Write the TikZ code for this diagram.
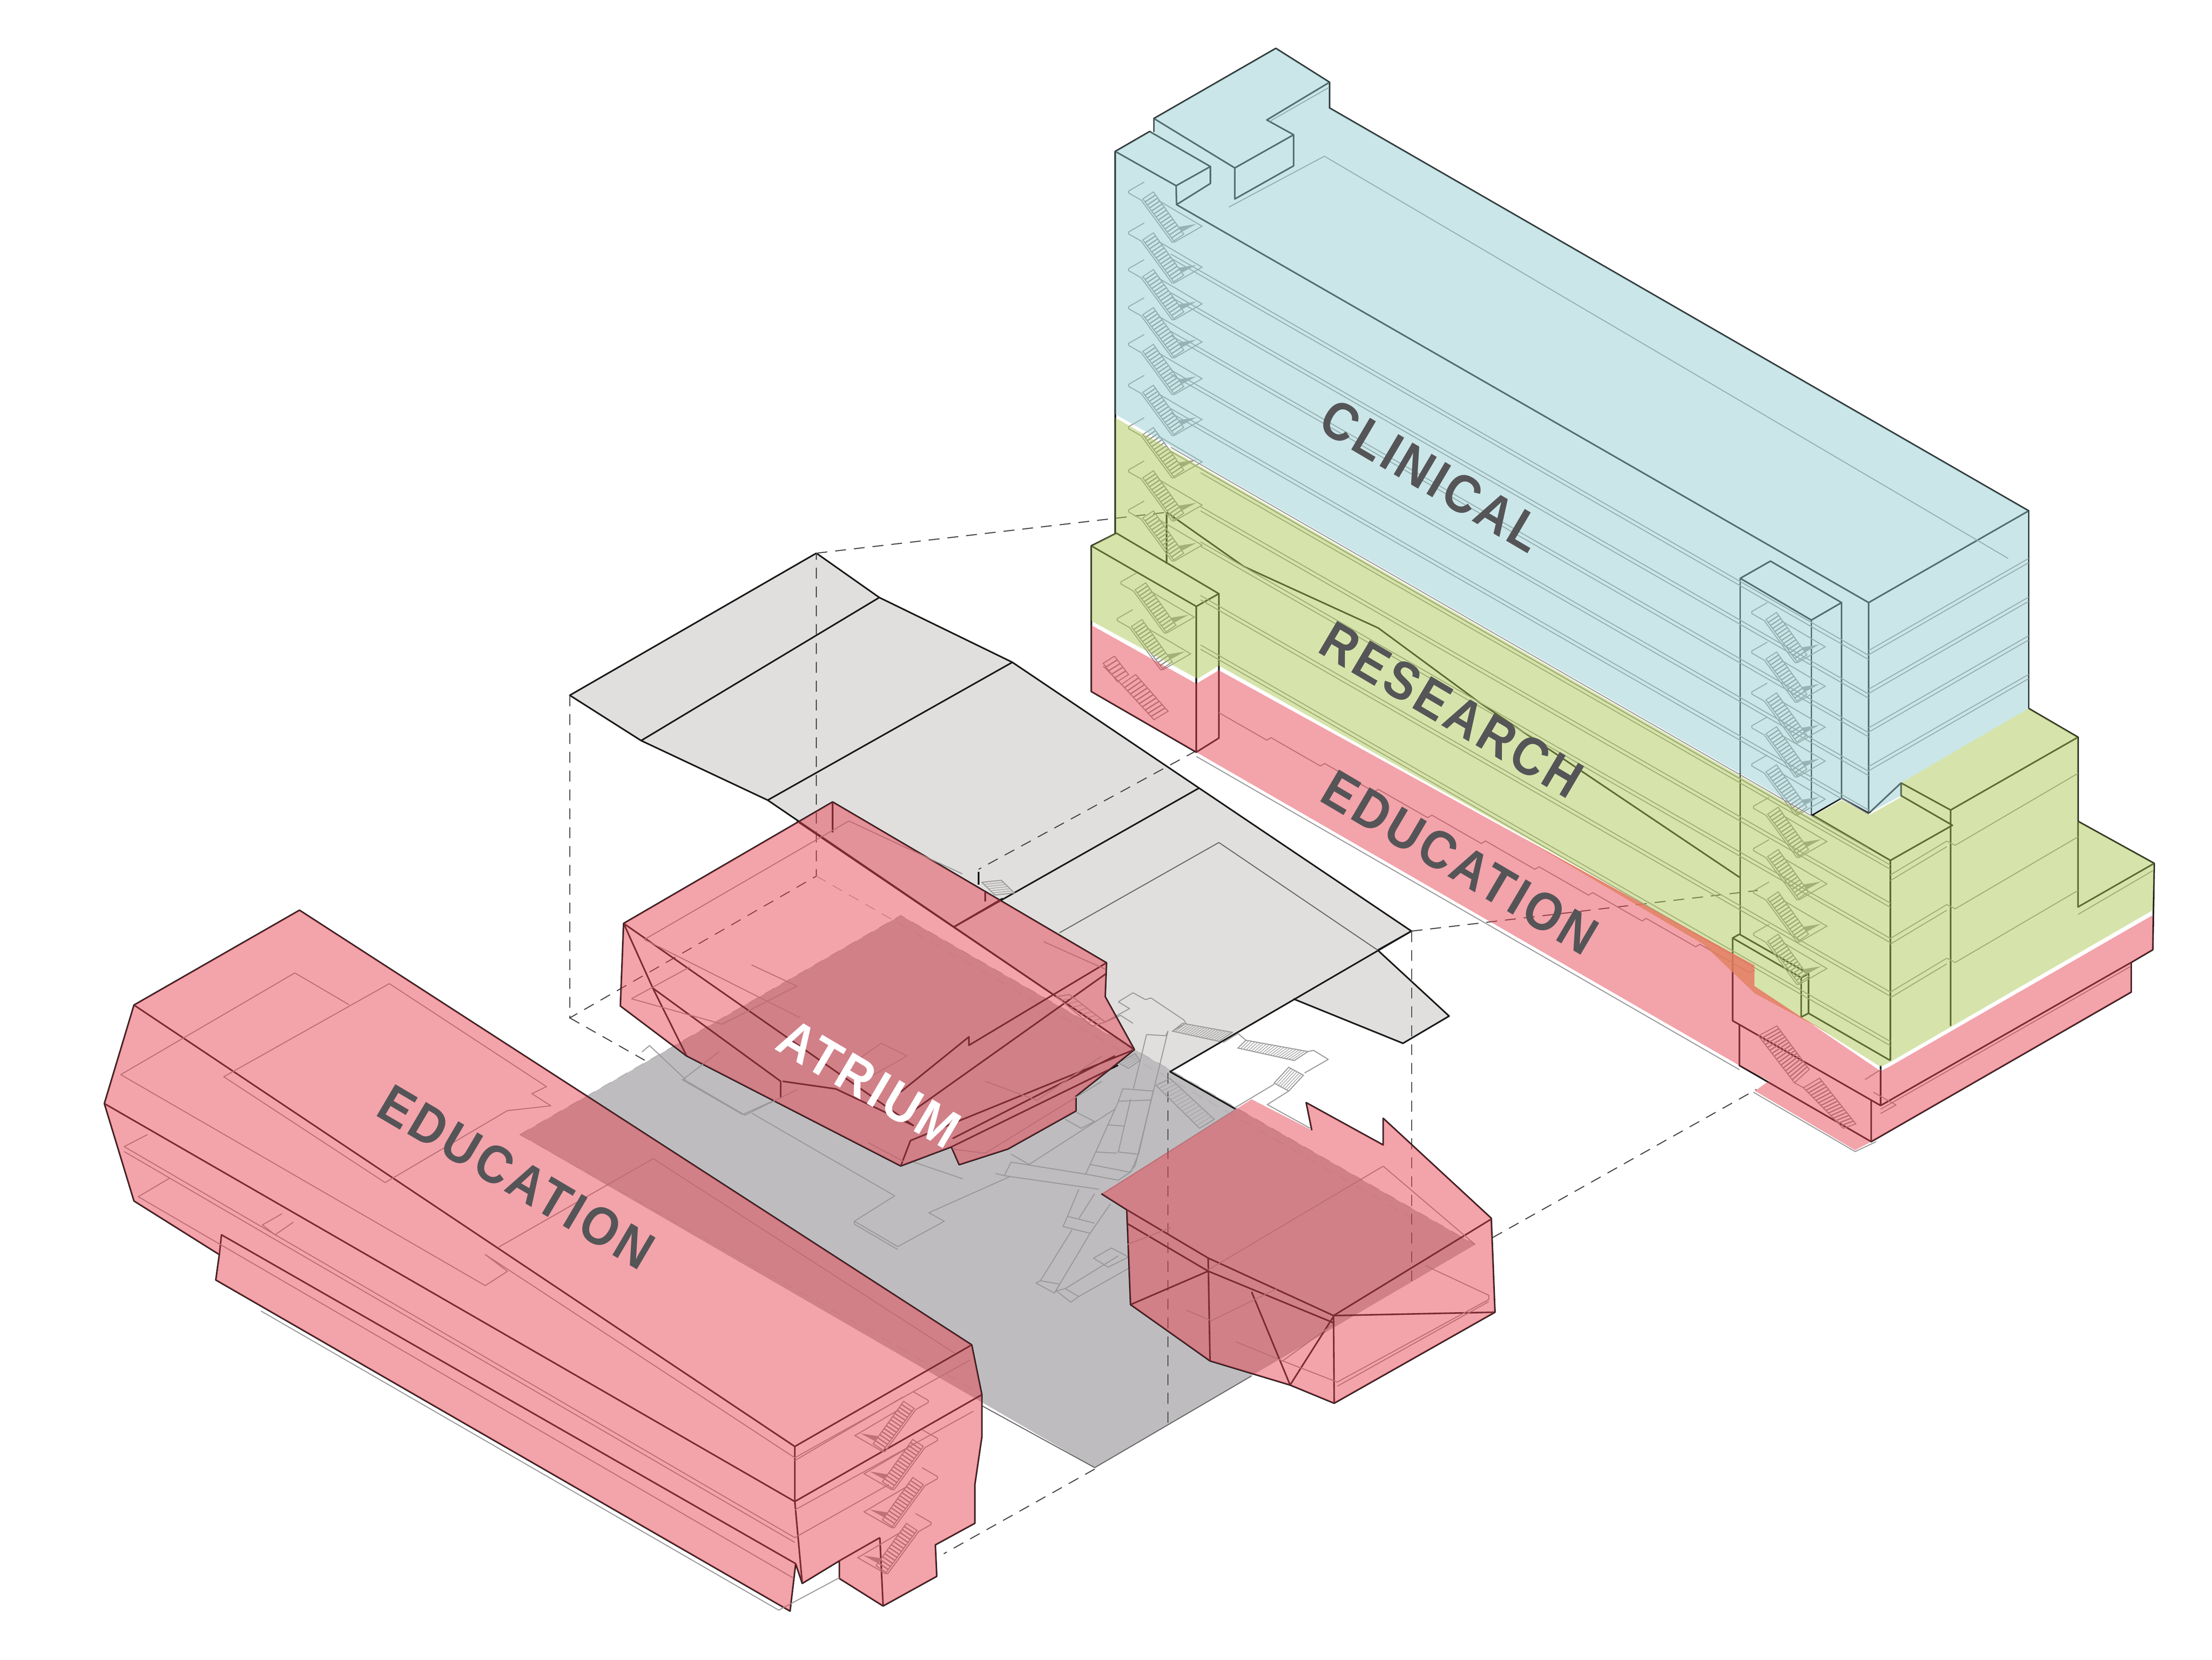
\documentclass[tikz,border=0pt]{standalone}
\usepackage{fontspec}
\newfontfamily\labelfont[LetterSpace=6,FakeStretch=.9]{Liberation Sans}
\usetikzlibrary{calc}
\definecolor{massred}{RGB}{230,63,78}
\definecolor{massblue}{RGB}{147,203,207}
\definecolor{massgreen}{RGB}{170,199,80}
\definecolor{roofgrey}{RGB}{224,223,221}
\definecolor{floorgrey}{RGB}{190,188,190}
\definecolor{textgrey}{RGB}{85,85,88}
\definecolor{wedgeorange}{RGB}{225,130,95}
\tikzset{
  massline/.style={draw=black!90,line width=.32pt,line join=round},
  slabline/.style={draw=black!40,line width=.2pt,line join=round},
  dashline/.style={draw=black!75,line width=.2pt,dash pattern=on 2.2pt off 1.6pt},
  faintdash/.style={draw=black!30,line width=.16pt,dash pattern=on 2.2pt off 1.6pt},
  stairline/.style={draw=black!40,line width=.2pt},
  treadline/.style={draw=black!42,line width=.26pt},
  redmass/.style={fill=massred,fill opacity=.48},
  bluemass/.style={fill=massblue,fill opacity=.48},
  greenmass/.style={fill=massgreen,fill opacity=.48},
  tag/.style={font=\labelfont\bfseries\fontsize{10.8}{12}\selectfont,text=textgrey,rotate=-30.5,inner sep=0pt},
  pics/stairrun/.style={code={
    \stairflight{(0,0)}{(7.5,-5)}{(29,25)}{(21.9,29.8)}{13}
    \draw[stairline] (-1.2,.8) -- (20.7,30.6) -- (22.5,30.5) -- (42,19.3) -- (11,1);
    \draw[stairline] (-1.2,.8) -- (-10,-4.2) -- (-10,-5.7) -- (1,-12);
    \fill[black!38] (25,19.8) -- (38,17.7) -- (28.2,23) -- cycle;
  }},
}
\newcommand{\stairflight}[5]{%
  \draw[stairline] #1 -- #2 -- #3 -- #4 -- cycle;
  \foreach \s in {1,...,#5} {
    \draw[treadline] ($#1!{\s/(#5+1)}!#4$) -- ($#2!{\s/(#5+1)}!#3$);
  }
}
\begin{document}
\begin{tikzpicture}[x=.1mm,y=-.1mm]
  \useasboundingbox (0,0) rectangle (1568,1176);

  \fill[roofgrey] (578.7,392) -- (623.3,423.4) -- (717.6,469.3) -- (1000.5,659.8) -- (976.6,673.3) -- (1027.2,720) -- (994.5,739.3) -- (916.8,707.8) -- (829.4,759.4) -- (804,743.8) -- (544.2,567) -- (454.5,524.8) -- (403.9,492.7) -- cycle;
  \fill[floorgrey] (368.5,804) -- (638.5,648.7) -- (1045.6,882) -- (776,1040) -- cycle;

  \draw[massline] (578.7,392) -- (623.3,423.4) -- (717.6,469.3) -- (1000.5,659.8) -- (976.6,673.3) -- (1027.2,720) -- (994.5,739.3) -- (916.8,707.8);
  \draw[massline] (1000.5,659.8) -- (829.4,759.4) -- (876,786);
  \draw[massline] (804,743.8) -- (544.2,567) -- (454.5,524.8) -- (403.9,492.7) -- (578.7,392);
  \draw[massline] (623.3,423.4) -- (454.5,524.8);
  \draw[massline] (717.6,469.3) -- (544.2,567);
  \draw[massline] (850,558.4) -- (676,657);
  \draw[slabline,draw=black!60] (751,661) -- (864,597) -- (976.6,673.3);
  \draw[slabline] (876,786) -- (781.6,846);
  \draw[slabline,draw=black!60] (887.2,975) -- (776,1040) -- (695.8,996);

  \draw[dashline] (403.9,492.7) -- (403.9,721.3) -- (578.7,620.8) -- (578.7,392);
  \draw[dashline] (403.9,721.3) -- (457,751.3);
  \draw[faintdash] (578.7,620.8) -- (1000.7,863);
  \draw[dashline] (1000.7,659.8) -- (1000.7,912);
  \draw[dashline] (828,760) -- (828,1011);
  \draw[dashline] (578.7,392) -- (827,363);
  \draw[dashline] (1000.5,659.8) -- (1246,631);
  \draw[dashline] (848,532) -- (693.7,616);
  \draw[dashline] (776,1041) -- (669,1101);
  \draw[dashline] (1058,877) -- (1245,772);
  \draw[faintdash] (368.5,804) -- (638.5,648.7) -- (1045.6,882);
  \draw[faintdash] (368.5,804) -- (696,988);

  \begin{scope}[shift={(705.5,689.9)},x=.016mm,y=-.016mm]
    \draw[slabline] (545,125) -- (610,85) -- (665,115) -- (690,108) -- (835,205) -- (845,220) -- (785,255);
    \draw[slabline] (545,125) -- (595,155) -- (485,215) -- (555,185) -- (610,220);
    \draw[slabline] (670,270) -- (755,275) -- (765,255) -- (620,850) -- (595,880);
    \draw[slabline] (670,270) -- (612,510);
    \draw[slabline] (565,510) -- (700,520) -- (690,560) -- (545,565) -- cycle;
    \draw[slabline] (600,555) -- (545,790) -- (635,800) -- (690,560);
    \draw[slabline] (545,568) -- (445,790) -- (420,845) -- (600,880) -- (632,805);
    \draw[slabline] (495,670) -- (570,675);
    \draw[slabline] (445,790) -- (540,795);
    \draw[slabline] (420,845) -- (400,888) -- (545,915) -- (597,880);
    \draw[slabline] (70,835) -- (400,888);
    \draw[slabline] (40,895) -- (460,955);
    \draw[slabline] (70,835) -- (40,895) -- (0,885);
    \draw[slabline] (70,800) -- (150,845) -- (530,600);
    \draw[slabline] (360,615) -- (440,655) -- (380,685) -- (310,645);
    \draw[slabline] (370,955) -- (320,1075) -- (440,1105);
    \draw[slabline] (320,1075) -- (300,1120) -- (420,1150) -- (510,1020);
    \draw[slabline] (370,1085) -- (440,975);
    \draw[slabline] (340,1135) -- (200,1360) -- (285,1375) -- (262,1415) -- (180,1370) -- (200,1360);
    \draw[slabline] (420,1150) -- (262,1415);
    \draw[slabline] (270,1405) -- (335,1455) -- (370,1430) -- (310,1395) -- cycle;
    \draw[slabline] (370,1430) -- (600,1300);
    \draw[slabline] (310,1395) -- (545,1250);
    \draw[slabline] (435,1260) -- (515,1215) -- (590,1255) -- (500,1300) -- cycle;
    \draw[slabline] (1010,305) -- (1075,265) -- (1110,295);
    \draw[slabline] (1385,345) -- (1410,340) -- (1475,380) -- (1370,440);
    \draw[slabline] (1300,520) -- (1205,580) -- (1395,685);
    \draw[slabline] (1060,595) -- (1235,490);
    \begin{scope}[treadline/.style={draw=black!35,line width=.14pt}]
      \stairflight{(785,255)}{(830,220)}{(1050,260)}{(990,300)}{17}
      \stairflight{(1075,330)}{(1110,295)}{(1385,345)}{(1325,385)}{20}
      \stairflight{(1235,485)}{(1300,415)}{(1365,450)}{(1300,520)}{6}
      \stairflight{(712,495)}{(775,465)}{(970,645)}{(905,685)}{14}
      \stairflight{(545,395)}{(620,355)}{(640,385)}{(590,420)}{3}
    \end{scope}
  \end{scope}

  \begin{scope}[shift={(407.6,689.9)},x=.044mm,y=-.03mm]
    \draw[slabline] (108,185) -- (120,170) -- (178,250);
    \draw[slabline] (172,250) -- (270,333) -- (320,300);
    \draw[slabline] (285,330) -- (515,525) -- (450,585) -- (520,645) -- (595,585) -- (570,565) -- (700,480);
    \draw[slabline] (450,585) -- (450,592) -- (520,652);
    \draw[slabline] (545,445) -- (625,485);
  \end{scope}

  \begin{scope}[shift={(376.3,376.3)},x=.046mm,y=-.03mm]
    \draw[massline] (465,640) -- (887,1020) -- (885,1100) -- (930,1225) -- (900,1262) -- (840,1335) -- (840,1370) -- (735,1460) -- (660,1497) -- (648,1455) -- (570,1500) -- (240,1240) -- (138,1122) -- (143,927) -- cycle;
    \draw[massline] (143,927) -- (188,1080) -- (240,1240);
    \draw[massline] (143,927) -- (590,1405);
    \draw[massline] (188,1080) -- (385,1300) -- (385,1340);
    \draw[massline] (388,1300) -- (470,1318) -- (590,1405);
    \draw[massline] (887,1020) -- (675,1215) -- (675,1195) -- (570,1325);
    \draw[massline] (887,1045) -- (575,1385);
    \draw[massline] (930,1225) -- (585,1440) -- (570,1500);
    \draw[massline] (900,1240) -- (650,1435);
    \draw[massline] (905,1262) -- (648,1455);
    \draw[massline] (465,640) -- (465,712);
    \draw[massline] (410,685) -- (930,1225);
    \draw[massline] (652,935) -- (727,868);
    \draw[massline] (690,805) -- (690,835);
    \draw[massline] (700,850) -- (700,875);
    \draw[slabline] (490,685) -- (175,965) -- (415,1150);
    \draw[slabline] (490,685) -- (665,810);
    \draw[slabline] (155,1105) -- (245,1030);
    \draw[slabline] (155,1105) -- (295,1165) -- (410,1075) -- (340,1025);
    \draw[slabline] (235,1295) -- (330,1380) -- (410,1320);
    \draw[slabline] (290,1230) -- (235,1295);
    \draw[slabline] (790,970) -- (885,1035);
    \draw[slabline] (700,1300) -- (780,1345) -- (880,1240);
    \draw[slabline] (475,1280) -- (540,1210) -- (580,1240) -- (510,1300);
    \draw[slabline] (520,1445) -- (575,1490);
    \draw[slabline] (650,1460) -- (700,1470) -- (880,1300);
    \begin{scope}[treadline/.style={draw=black!35,line width=.14pt}]
      \stairflight{(695,830)}{(725,825)}{(745,855)}{(715,860)}{5}
      \stairflight{(810,1100)}{(830,1095)}{(885,1160)}{(865,1170)}{7}
    \end{scope}
  \end{scope}

  \begin{scope}[shift={(407.6,689.9)},x=.044mm,y=-.03mm]
    \draw[massline] (848,520) -- (889,558) -- (895,782) -- (1023,915) -- (1152,972) -- (1223,1015) -- (1482,800) -- (1476,578) -- (1302,342) -- (1302,405) -- (1178,305) -- (1187,370);
    \draw[massline] (889,558) -- (1020,672) -- (1222,808) -- (1476,580);
    \draw[massline] (889,590) -- (1020,703) -- (1222,825);
    \draw[massline] (1222,808) -- (1482,800);
    \draw[massline] (1222,808) -- (1223,1015);
    \draw[massline] (1020,672) -- (1023,915);
    \draw[massline] (1020,703) -- (895,782);
    \draw[massline] (1090,752) -- (1152,972) -- (1222,810);
    \draw[slabline] (1020,700) -- (1302,455);
    \draw[slabline] (985,795) -- (1025,820) -- (1130,745);
    \draw[slabline] (1065,870) -- (1140,915) -- (1220,830);
    \draw[slabline] (1140,915) -- (1228,965) -- (1472,770) -- (1472,760) -- (1370,690);
    \draw[slabline] (1228,975) -- (1472,775);
    \draw[slabline] (890,640) -- (960,600);
    \draw[slabline] (1302,455) -- (1450,640);
  \end{scope}

  \draw[massline] (212.3,645) -- (688.8,953) -- (696,988.3) -- (696,1018) -- (691,1052) -- (691,1079.4) -- (663,1094.7) -- (664,1117) -- (626,1138) -- (595,1118.5) -- (595,1106) -- (568.7,1122) -- (564,1108) -- (560,1141.6) -- (153,907) -- (155.5,889) -- (95,851) -- (74,782) -- (95,712.2) -- cycle;
  \draw[massline] (95,712.2) -- (563.4,1025) -- (688.8,953);
  \draw[massline] (74,782) -- (563.4,1064) -- (696,988.3);
  \draw[massline] (155.5,889) -- (157,875) -- (564,1108);
  \draw[massline] (563.4,1025) -- (563.4,1064) -- (568.7,1122);
  \draw[massline] (623.7,1089.6) -- (595,1106);
  \draw[massline] (623.7,1089.6) -- (626,1138);
  \draw[slabline,draw=black!40] (185,929) -- (552,1141) -- (595,1118);
  \draw[slabline] (209,689.4) -- (85.6,761.5) -- (344,911) -- (359.7,900.9) -- (344,889) -- (563.4,1033) -- (687.5,963.8);
  \draw[slabline] (209,689.4) -- (247.5,712);
  \draw[slabline] (276,697) -- (158.6,763) -- (273,838) -- (359.7,787) -- (390.5,783.6) -- (377,775) -- (387.4,770) -- (276,697);
  \draw[slabline] (463,821) -- (353,884);
  \draw[slabline] (463,821) -- (676.5,958.7);
  \draw[slabline] (104.5,804) -- (88,812.5) -- (563.4,1089.6) -- (630,1052);
  \draw[slabline] (88,816) -- (563.4,1093);
  \draw[slabline] (120,835) -- (98,848) -- (562,1118);
  \draw[slabline] (200,860) -- (186,868) -- (195,875) -- (208,866);
  \draw[slabline] (563.4,1035) -- (640,990);
  \draw[slabline] (563.4,1070) -- (690,1000);
  \foreach \py/\px in {998/648,1025/654.5,1052/654.5,1084.5/650} {
    \pic[xscale=-1] at (\px,\py) {stairrun};
  }

  \draw[massline] (790.6,107.3) -- (815,93.2) -- (858,118) -- (833.7,131.6) -- cycle;
  \draw[massline] (790.6,107.3) -- (790.6,377.8);
  \draw[massline] (833.7,131.6) -- (834,145) -- (858,130) -- (858,118);
  \draw[massline] (834,145) -- (1324.6,427) -- (1438,362) -- (942.4,76.5) -- (942.4,58.3);
  \draw[massline] (904.4,34.3) -- (942.4,58.3) -- (898,85) -- (917,95.5) -- (917,117.5) -- (875.3,141) -- (875.3,119) -- (818,84) -- cycle;
  \draw[massline] (875.3,119) -- (917,95.5);
  \draw[massline] (818,84) -- (818,93.6);
  \draw[massline] (1438,362) -- (1438,502);
  \draw[massline] (1324.6,427) -- (1324.6,576) -- (1305.4,565.5);
  \draw[massline] (1233.6,409.8) -- (1255,397.6) -- (1305.4,427) -- (1284,439.4) -- cycle;
  \draw[massline] (1284,439.4) -- (1284,578);
  \draw[massline] (1305.4,427) -- (1305.4,565.5) -- (1284,578);
  \draw[massline] (1233.6,409.8) -- (1233.6,662);
  \draw[slabline] (871,146.8) -- (938.8,110.7) -- (1423.5,395.7);
  \draw[slabline] (900,86) -- (942,62);
  \draw[massline] (827,363) -- (827,399.5);
  \draw[massline] (827,363) -- (881.6,401.4) -- (977,445) -- (1049,498) -- (1233.6,622);
  \draw[massline] (773.6,386.8) -- (791.4,377.8) -- (864,420.7) -- (848,429.7) -- cycle;
  \draw[massline] (773.6,386.8) -- (773.6,490) -- (848,533) -- (864,523) -- (864,420.7);
  \draw[massline] (848,429.7) -- (848,533);
  \draw[massline] (1228.2,664.7) -- (1233,662) -- (1282,690) -- (1276.8,692.8) -- cycle;
  \draw[massline] (1276.8,692.8) -- (1276.8,720.7) -- (1282,718) -- (1282,690);
  \draw[massline] (1282,718) -- (1340,751.5);
  \draw[massline] (1228.2,664.7) -- (1228.2,723.3) -- (1333.1,783.4);
  \draw[massline] (1233,726) -- (1233,755) -- (1326.4,809);
  \draw[massline] (1333.1,755) -- (1333.1,783.4) -- (1510.7,682);
  \draw[massline] (1326.4,779.7) -- (1326.4,809) -- (1510.7,703) -- (1510.7,682) -- (1526,673) -- (1527,611.8);
  \draw[massline] (1340,751.5) -- (1340,609.7) -- (1384,584.8) -- (1347.6,563.8) -- (1347.6,554.8) -- (1382.7,574) -- (1382.7,727);
  \draw[massline] (1284.4,577.3) -- (1340,609.7);
  \draw[massline] (1438,502) -- (1473,522.4) -- (1382.7,574);
  \draw[massline] (1473,522.4) -- (1473,642.7) -- (1527,611.8) -- (1473,582);
  \draw[massline] (1347.6,554.8) -- (1325,576);

  \foreach \k in {0,...,5} {
    \draw[slabline] (830,{180+27.4*\k}) -- (1324.6,{464.4+27.4*\k});
    \draw[slabline] (830,{183+27.4*\k}) -- (1324.6,{467.4+27.4*\k});
  }
  \foreach \k in {0,...,3} {
    \draw[slabline] (1324.6,{461+27.4*\k}) -- (1438,{395.7+27.4*\k});
    \draw[slabline] (1324.6,{464+27.4*\k}) -- (1438,{398.7+27.4*\k});
  }
  \foreach \y in {320,347,372,410,445} {
    \draw[slabline] (851,{\y+12}) -- (1340,{\y+293});
    \draw[slabline] (851,{\y+15}) -- (1340,{\y+296});
  }
  \foreach \y in {620,665,703} {
    \draw[slabline] (1340,\y) -- (1380,{\y-24}) -- (1386,{\y-21}) -- (1473,{\y-72});
    \draw[slabline] (1340,{\y+4}) -- (1380,{\y-20});
  }
  \draw[slabline] (1473,648) -- (1526,617);
  \draw[slabline] (864,505) foreach \i in {1,...,10} { -- ++(34,19.5) -- ++(3,-1.8) -- ++(1,.6) };
  \draw[slabline] (1333.1,789) -- (1344,783) -- (1328,774);
  \draw[slabline] (1333.1,786) -- (1510,685);
  \draw[slabline] (1322,765) -- (1333.1,758);

  \foreach \y in {141,170,196,223,249,278,308,338.6,367} {
    \pic at (810.1,\y) {stairrun};
  }
  \foreach \px/\y in {804.6/418,802/444} {
    \pic at (\px,\y) {stairrun};
  }
  \stairflight{(782,470)}{(790,465)}{(800,478)}{(792,483)}{4}
  \stairflight{(795,485)}{(805,478)}{(828,504)}{(818,510)}{10}
  \draw[stairline] (782,472) -- (795,485);
  \foreach \px/\y in {1251.8/439,1251.8/467,1251.8/496,1251.8/520,1251.8/547,1253/577,1253/607,1253/637,1253/667} {
    \pic at (\px,\y) {stairrun};
  }
  \stairflight{(1246.5,734)}{(1259.6,727)}{(1282.5,757.8)}{(1272,767.2)}{15}
  \stairflight{(1278.4,770.8)}{(1289.9,764)}{(1315.5,796.4)}{(1306.6,799.5)}{15}
  \draw[stairline] (1272,767.2) -- (1278.4,770.8);
  \draw[slabline,draw=black!40] (848,536) -- (1233,758);
  \draw[slabline,draw=black!40] (1243,774) -- (1315,816) -- (1330,809);

  \path[bluemass] (790.6,107.3) -- (815,93.2) -- (818,93.6) -- (818,84) -- (904.4,34.3) -- (942.4,58.3) -- (942.4,76.5) -- (1438,362) -- (1438,502) -- (1347.6,554.8) -- (1347.6,563.8) -- (1325,576) -- (1305.4,565.5) -- (1284,577) -- (790.6,293.5) -- cycle;
  \path[greenmass] (790.6,296) -- (1284,579) -- (1305.4,567) -- (1325,577.5) -- (1347.6,564.8) -- (1347.6,554.8) -- (1438,502) -- (1473,522.4) -- (1473,582) -- (1527,611.8) -- (1526,645) -- (1340,752.5) -- (1333.2,756) -- (1276.8,720.7) -- (1243.6,698.7) -- (1243.6,684) -- (1207,664) -- (864,471.7) -- (849,481) -- (773.6,440) -- (773.6,386.8) -- (790.6,377.8) -- cycle;
  \path[redmass] (773.6,443) -- (848,484.5) -- (864,475) -- (1207,664) -- (1243.6,684) -- (1243.6,698.7) -- (1276.8,720.7) -- (1333,759) -- (1340,755.5) -- (1526,648.5) -- (1526,673) -- (1510.7,682) -- (1510.7,703) -- (1326.5,809) -- (1315,815) -- (1244,773) -- (1254,766) -- (1233,755) -- (848,533) -- (773.6,490) -- cycle;
  \fill[wedgeorange,fill opacity=.8] (1080,594) -- (1207.3,664) -- (1243.6,684) -- (1243.6,698.7) -- (1276.8,720.7) -- (1298,733) -- (1244,704) -- (1207.3,669) -- cycle;

  \path[redmass] (212.3,645) -- (688.8,953) -- (696,988.3) -- (696,1018) -- (691,1052) -- (691,1079.4) -- (663,1094.7) -- (664,1117) -- (626,1138) -- (595,1118.5) -- (595,1106) -- (568.7,1122) -- (564,1108) -- (560,1141.6) -- (153,907) -- (155.5,889) -- (95,851) -- (74,782) -- (95,712.2) -- cycle;
  \begin{scope}[shift={(376.3,376.3)},x=.046mm,y=-.03mm]
    \path[redmass] (465,640) -- (887,1020) -- (885,1100) -- (930,1225) -- (900,1262) -- (840,1335) -- (840,1370) -- (735,1460) -- (660,1497) -- (648,1455) -- (570,1500) -- (240,1240) -- (138,1122) -- (143,927) -- cycle;
  \end{scope}
  \begin{scope}[shift={(407.6,689.9)},x=.044mm,y=-.03mm]
    \path[redmass] (1090,297) -- (1187,370) -- (1178,305) -- (1302,405) -- (1302,342) -- (1476,578) -- (1482,800) -- (1223,1015) -- (1152,972) -- (1023,915) -- (895,782) -- (889,558) -- (848,520) -- cycle;
  \end{scope}

  \node[tag] (clinical) at (1015,337) {CLINICAL};
  \node[tag] (research) at (1029,503) {RESEARCH};
  \node[tag] (educationright) at (1035,611) {EDUCATION};
  \node[tag] (educationleft) at (366,834) {EDUCATION};
  \node[tag,text=white] (atrium) at (616,768) {ATRIUM};
\end{tikzpicture}
\end{document}
